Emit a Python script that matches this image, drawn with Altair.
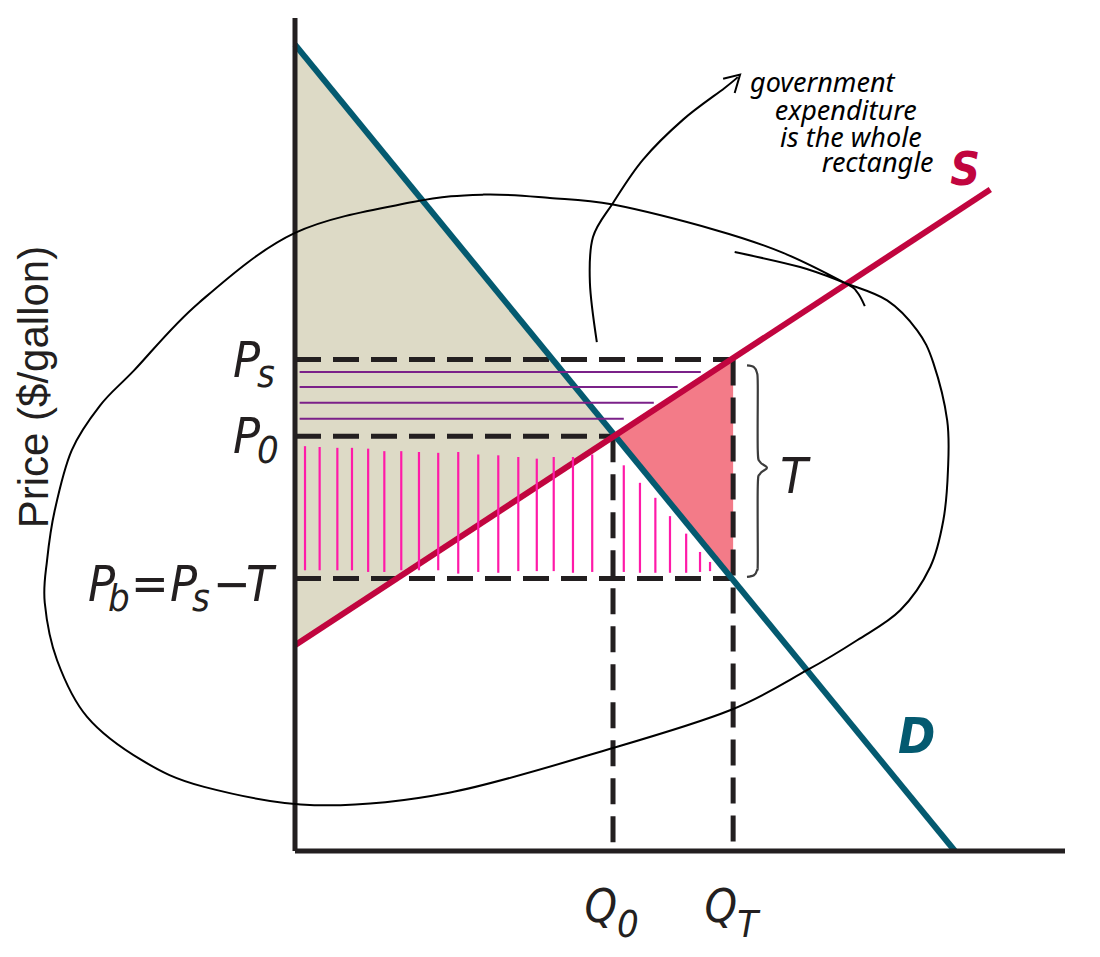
import altair as alt
import pandas as pd

# ---------------- model values (quantity / price units) ----------------
demand_q = [0.0, 8.57]
demand_p = [9.68, 0.0]
supply_q = [0.0, 9.03]
supply_p = [2.47, 7.94]
Q0, P0 = 4.13, 4.98
QT = 5.69
PS, PB = 5.90, 3.27

# hand-drawn hatching (purple: horizontal, magenta: vertical)
purple_p = [5.75, 5.57, 5.38, 5.19]
purple_q_end = [5.27, 4.97, 4.66, 4.27]
purple_q_start = 0.06
magenta_q = [0.13, 0.32, 0.55, 0.74, 0.95, 1.16, 1.38, 1.61, 1.86, 2.12, 2.38, 2.64,
             2.90, 3.14, 3.36, 3.61, 3.86, 4.27, 4.48, 4.68, 4.87, 5.08, 5.26, 5.39]
magenta_top = [4.86, 4.85, 4.84, 4.84, 4.83, 4.80, 4.80, 4.79, 4.78, 4.79, 4.76, 4.75,
               4.73, 4.71, 4.73, 4.73, 4.76, 4.63, 4.42, 4.24, 4.02, 3.81, 3.59, 3.47]
magenta_bottom = [3.37, 3.37, 3.37, 3.37, 3.35, 3.35, 3.37, 3.37, 3.37, 3.33, 3.35, 3.34,
                  3.36, 3.36, 3.36, 3.34, 3.35, 3.35, 3.34, 3.34, 3.34, 3.34, 3.35, 3.36]

# hand-drawn loop and arrow
loop_q = [5.71, 6.56, 7.14, 7.69, 8.08, 8.29, 8.47, 8.48, 8.42, 8.25, 7.86, 7.30, 6.65,
          5.65, 4.14, 2.00, 0.25, -1.18, -1.99, -2.70, -3.09, -3.25, -3.22, -3.12, -2.90,
          -2.53, -2.09, -1.25, 0.00, 1.53, 2.45, 3.31, 4.13, 5.48, 6.34, 7.14, 7.30, 7.40]
loop_p = [7.19, 7.01, 6.82, 6.61, 6.25, 5.86, 5.17, 4.57, 3.97, 3.41, 2.89, 2.53, 2.17,
          1.69, 1.24, 0.70, 0.55, 0.77, 1.09, 1.61, 2.29, 2.98, 3.49, 4.09, 4.81,
          5.35, 5.77, 6.58, 7.42, 7.79, 7.88, 7.84, 7.76, 7.45, 7.18, 6.82, 6.71, 6.54]
arrow_q = [3.92, 3.83, 3.87, 4.13, 4.52, 5.04, 5.58, 5.75]
arrow_p = [6.11, 6.82, 7.37, 7.78, 8.30, 8.78, 9.16, 9.29]
arrowhead_q = [5.56, 5.78, 5.71]
arrowhead_p = [9.27, 9.32, 9.10]

# brace for T
brace_q = [5.87, 5.96, 6.00, 6.01, 6.01, 6.04, 6.13, 6.04, 6.01, 6.01, 6.00, 5.96, 5.87]
brace_p = [5.83, 5.81, 5.74, 5.59, 4.81, 4.67, 4.60, 4.53, 4.38, 3.49, 3.37, 3.31, 3.29]

note_lines = ["government", "expenditure", "is the whole", "rectangle"]
note_q = [5.91, 6.23, 6.30, 6.84]
note_p = [9.11, 8.78, 8.45, 8.15]

y_title = "Price ($/gallon)"

# ---------------- styles ----------------
INK = "#231f20"
TEAL = "#045a70"
CRIMSON = "#c1053f"
BEIGE = "#dddac6"
PINK = "#f37b88"
PURPLE = "#7b2189"
MAGENTA = "#ff1aa8"
NARROW = "DejaVu Sans Condensed, Liberation Sans Narrow, Liberation Sans, sans-serif"

xs = alt.Scale(domain=[0, 10], nice=False, zero=False)
ys = alt.Scale(domain=[0, 10], nice=False, zero=False)


def X(f="q"):
    return alt.X(f"{f}:Q", scale=xs, axis=None)


def Y(f="p"):
    return alt.Y(f"{f}:Q", scale=ys, axis=None)


def txt(t, q, p, dx=0, dy=0, size=50, align="left", color=INK, font=NARROW,
        style="italic", weight="normal", baseline="alphabetic", angle=0):
    d = pd.DataFrame({"q": [q], "p": [p], "t": [t]})
    return alt.Chart(d).mark_text(
        dx=dx, dy=dy, fontSize=size, align=align, color=color, font=font,
        fontStyle=style, fontWeight=weight, baseline=baseline, angle=angle
    ).encode(x=X(), y=Y(), text="t:N")


def dem(q):
    return demand_p[0] + (demand_p[1] - demand_p[0]) * q / demand_q[1]


def sup(q):
    return supply_p[0] + (supply_p[1] - supply_p[0]) * q / supply_q[1]


layers = []

# shaded areas
beige = pd.DataFrame({"q": [0, Q0], "top": [dem(0), P0], "bot": [sup(0), P0]})
layers.append(alt.Chart(beige).mark_area(color=BEIGE, opacity=1)
              .encode(x=X(), y=Y("top"), y2=alt.Y2("bot:Q")))
pink = pd.DataFrame({"q": [Q0, QT], "top": [P0, PS], "bot": [P0, PB]})
layers.append(alt.Chart(pink).mark_area(color=PINK, opacity=1)
              .encode(x=X(), y=Y("top"), y2=alt.Y2("bot:Q")))

# dashed guide lines
dash = pd.DataFrame({
    "q": [0, 0, 0, Q0, QT],
    "q2": [QT, Q0, QT, Q0, QT],
    "p": [PS, P0, PB, P0, PS],
    "p2": [PS, P0, PB, 0, 0],
})
layers.append(alt.Chart(dash).mark_rule(color=INK, strokeWidth=5, strokeDash=[26, 12])
              .encode(x=X(), x2=alt.X2("q2:Q"), y=Y(), y2=alt.Y2("p2:Q")))

# demand & supply
layers.append(alt.Chart(pd.DataFrame({"q": demand_q, "p": demand_p}))
              .mark_line(color=TEAL, strokeWidth=6).encode(x=X(), y=Y()))
layers.append(alt.Chart(pd.DataFrame({"q": supply_q, "p": supply_p}))
              .mark_line(color=CRIMSON, strokeWidth=6).encode(x=X(), y=Y()))

# axes
axes = pd.DataFrame({"q": [0, 0], "q2": [0, 10], "p": [0, 0], "p2": [10, 0]})
layers.append(alt.Chart(axes).mark_rule(color=INK, strokeWidth=5)
              .encode(x=X(), x2=alt.X2("q2:Q"), y=Y(), y2=alt.Y2("p2:Q")))

# hatching
pur = pd.DataFrame({"q": [purple_q_start] * len(purple_p), "q2": purple_q_end, "p": purple_p})
layers.append(alt.Chart(pur).mark_rule(color=PURPLE, strokeWidth=2)
              .encode(x=X(), x2=alt.X2("q2:Q"), y=Y()))
mag = pd.DataFrame({"q": magenta_q, "p": magenta_top, "p2": magenta_bottom})
layers.append(alt.Chart(mag).mark_rule(color=MAGENTA, strokeWidth=2.2)
              .encode(x=X(), y=Y(), y2=alt.Y2("p2:Q")))

# brace
br = pd.DataFrame({"q": brace_q, "p": brace_p, "i": list(range(len(brace_q)))})
layers.append(alt.Chart(br).mark_line(color="#3c3c3c", strokeWidth=2.2, interpolate="cardinal")
              .encode(x=X(), y=Y(), order=alt.Order("i:Q")))

# labels
layers += [
    txt("P", 0, PS, dx=-35, dy=17, align="right"),
    txt("s", 0, PS, dx=-38, dy=27, size=38),
    txt("P", 0, P0, dx=-35, dy=17, align="right"),
    txt("0", 0, P0, dx=-38, dy=27, size=38),
    txt("P", 0, PB, dx=-207, dy=22),
    txt("b", 0, PB, dx=-187, dy=32, size=38),
    txt("=", 0, PB, dx=-164, dy=22),
    txt("P", 0, PB, dx=-125, dy=22),
    txt("s", 0, PB, dx=-103, dy=32, size=38),
    txt("\u2212", 0, PB, dx=-82, dy=22),
    txt("T", 0, PB, dx=-49, dy=22),
    txt("Q", Q0, 0, dx=4, dy=71, size=46, align="right"),
    txt("0", Q0, 0, dx=4, dy=86, size=38),
    txt("Q", QT, 0, dx=4, dy=71, size=46, align="right"),
    txt("T", QT, 0, dx=4, dy=86, size=38),
    txt("T", QT, (PS + PB) / 2, dx=47, dy=24),
    txt("S", supply_q[1], supply_p[1], dx=-40, dy=-5, size=46, color=CRIMSON, weight="bold"),
    txt("D", demand_q[1], demand_p[1], dx=-57, dy=-98, size=50, color=TEAL, weight="bold"),
    txt(y_title, -3.38, 5.57, size=42, align="center", baseline="middle", angle=270,
        font="Liberation Sans, Arial, sans-serif", style="normal"),
]

# hand-drawn annotation
lp = pd.DataFrame({"q": loop_q, "p": loop_p, "i": list(range(len(loop_q)))})
layers.append(alt.Chart(lp).mark_line(color="black", strokeWidth=2, interpolate="cardinal")
              .encode(x=X(), y=Y(), order=alt.Order("i:Q")))
ar = pd.DataFrame({"q": arrow_q, "p": arrow_p, "i": list(range(len(arrow_q)))})
layers.append(alt.Chart(ar).mark_line(color="black", strokeWidth=2, interpolate="cardinal")
              .encode(x=X(), y=Y(), order=alt.Order("i:Q")))
ah = pd.DataFrame({"q": arrowhead_q, "p": arrowhead_p, "i": [0, 1, 2]})
layers.append(alt.Chart(ah).mark_line(color="black", strokeWidth=2)
              .encode(x=X(), y=Y(), order=alt.Order("i:Q")))
note = pd.DataFrame({"q": note_q, "p": note_p, "t": note_lines})
layers.append(alt.Chart(note).mark_text(align="left", baseline="alphabetic", fontSize=27,
                                        fontStyle="italic", font="Noto Sans, DejaVu Sans, sans-serif",
                                        color="black")
              .encode(x=X(), y=Y(), text="t:N"))

chart = alt.layer(*layers).properties(
    width=770, height=833,
    padding={"left": 287, "top": 10, "right": 27, "bottom": 106},
    autosize=alt.AutoSizeParams(type="none"),
    background="white",
).configure_view(stroke=None)

chart.save("out.html", embed_options={"renderer": "svg", "actions": False})
